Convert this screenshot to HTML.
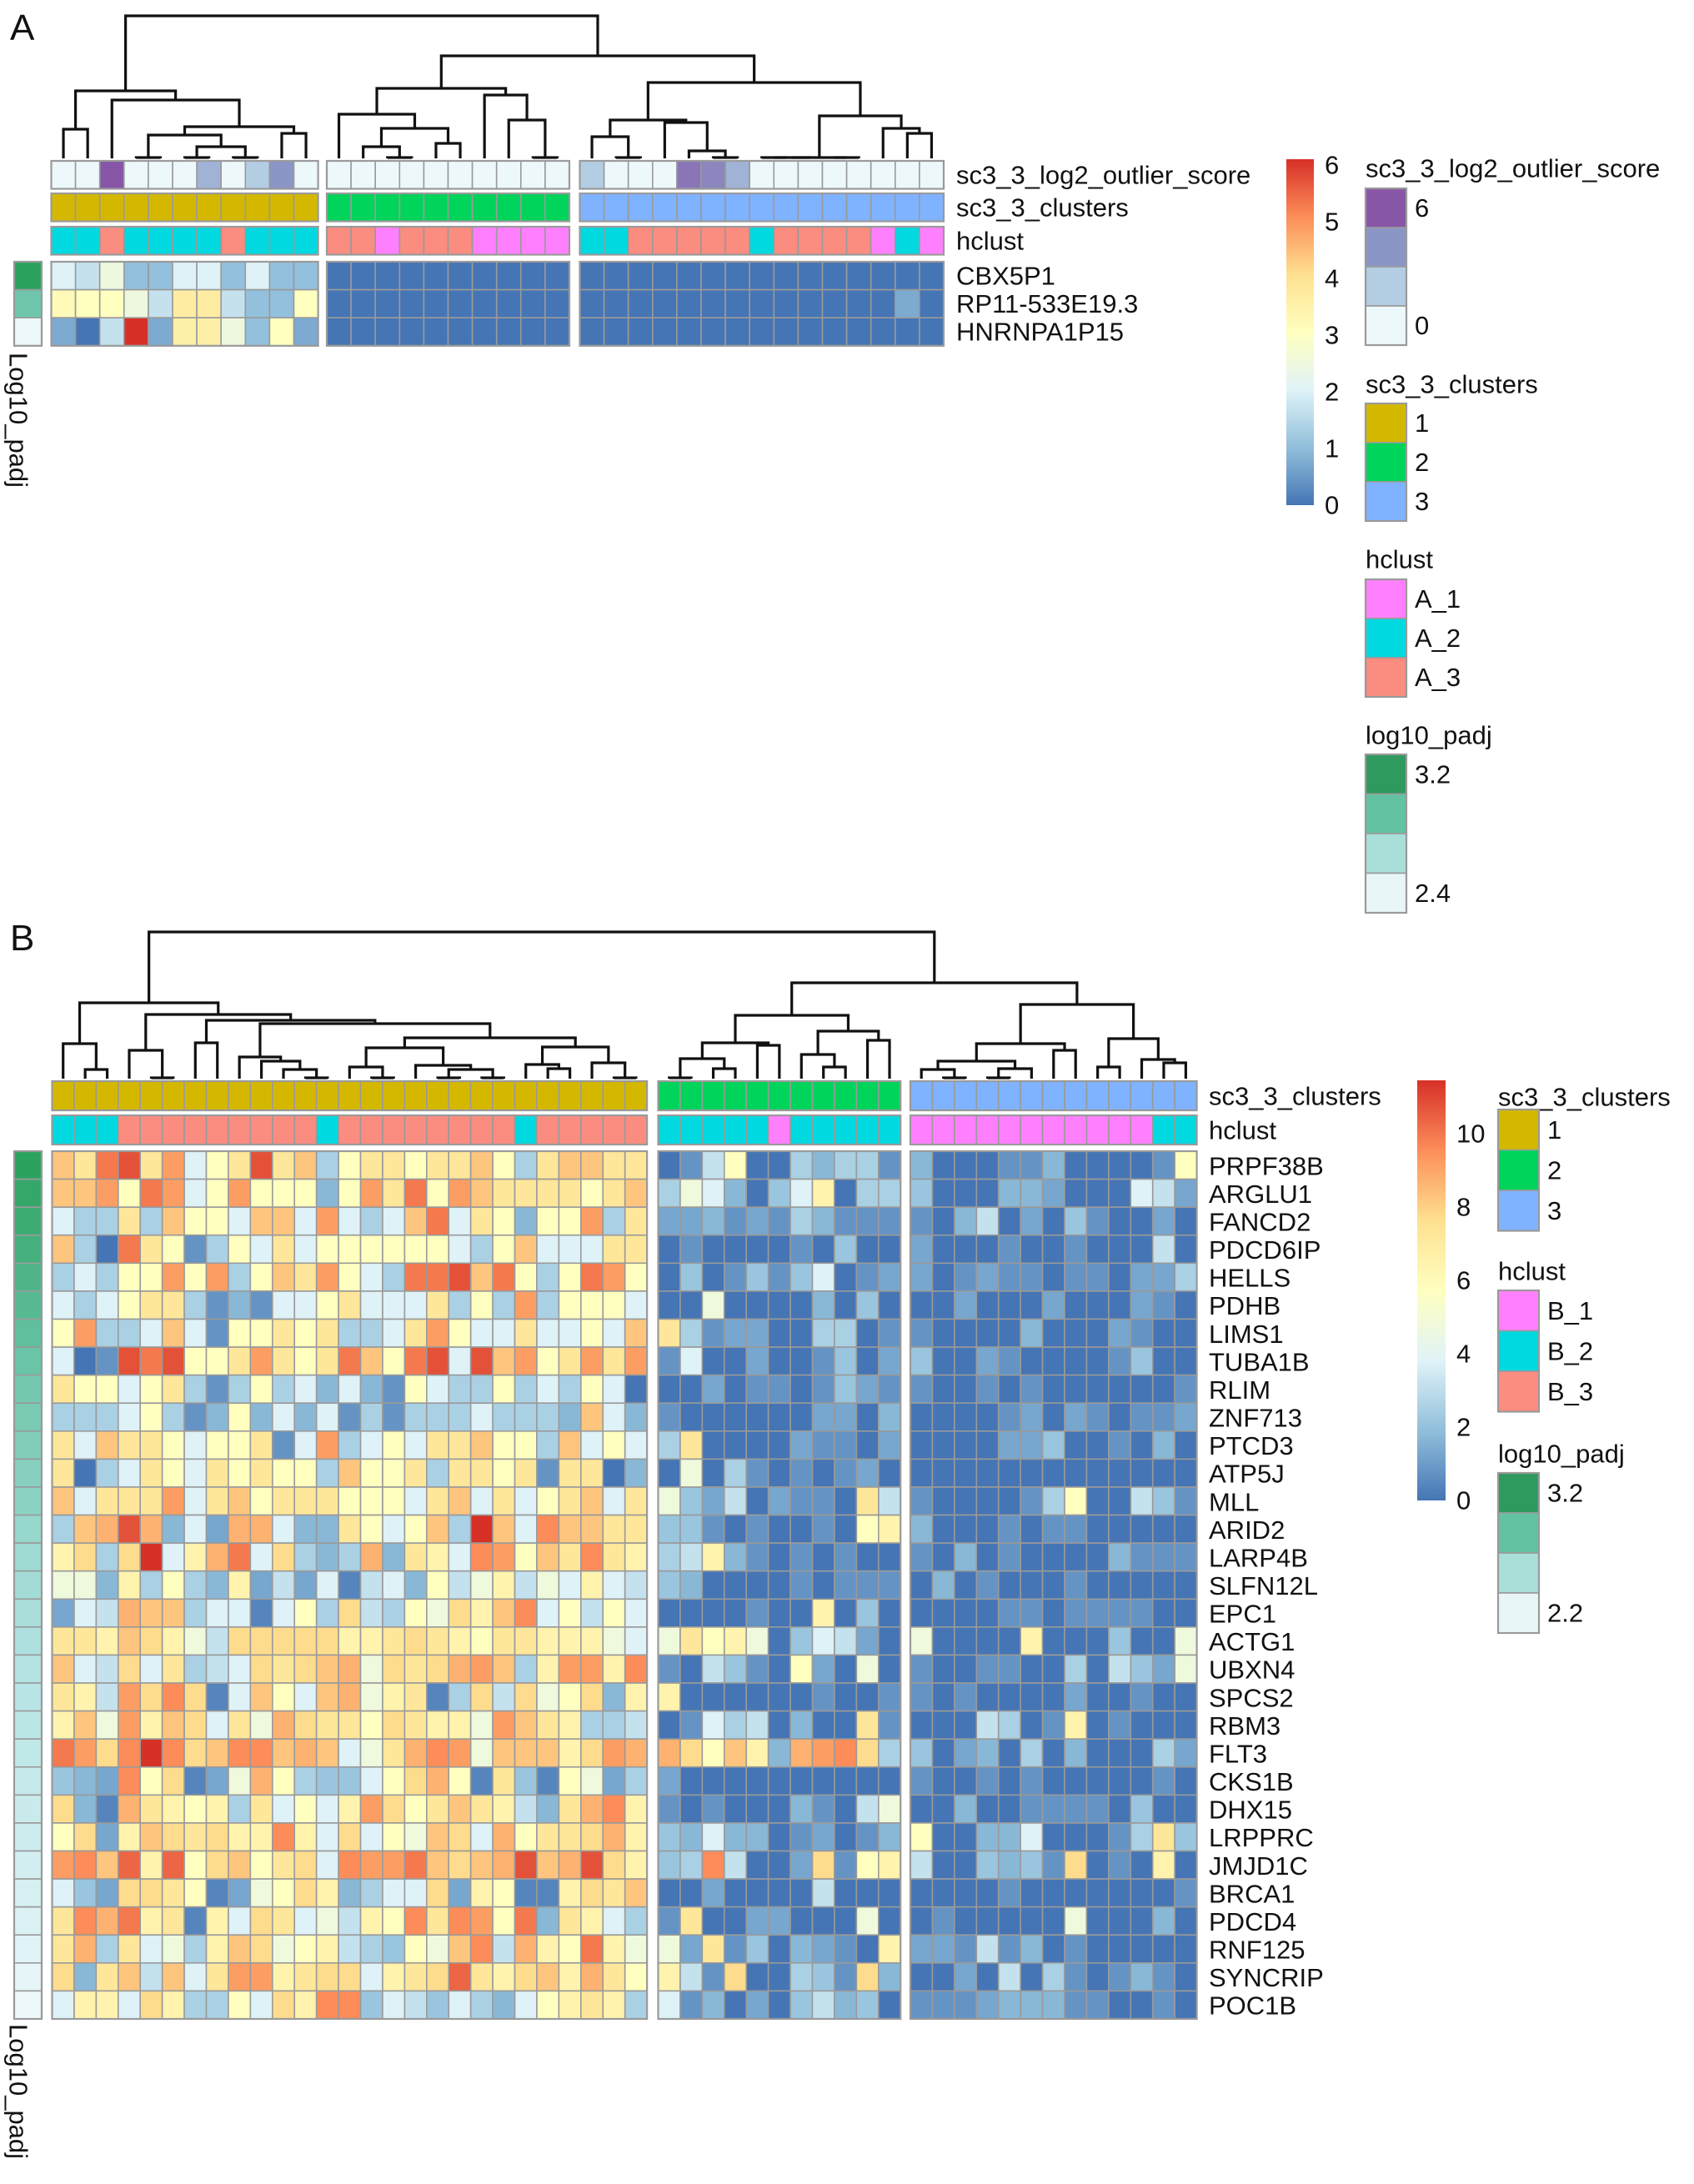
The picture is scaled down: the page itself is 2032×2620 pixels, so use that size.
<!DOCTYPE html>
<html><head><meta charset="utf-8"><title>Heatmaps</title>
<style>
html,body{margin:0;padding:0;background:#fff;}
svg{display:block;font-family:"Liberation Sans",Arial,sans-serif;}
text{fill:#111;}
</style></head>
<body>
<svg id="fig" width="2032" height="2620" viewBox="0 0 2032 2620" xmlns="http://www.w3.org/2000/svg">
<rect x="0" y="0" width="2032" height="2620" fill="#fff"/>
<text x="12" y="48" font-size="44">A</text>
<text x="12" y="1140" font-size="44">B</text>
<g id="gA"></g>
<g id="gB"></g>
<g id="legA"></g>
<g id="legB"></g>
</svg>
<script>
// ---------------- DATA ----------------
const genesA = ["CBX5P1","RP11-533E19.3","HNRNPA1P15"];
const valsA = [
 [3.5,3,4,2,2,3.5,3.5,2,3.5,2,2, 0,0,0,0,0,0,0,0,0,0, 0,0,0,0,0,0,0,0,0,0,0,0,0,0,0],
 [4.8,4.6,4.6,4,3,5.3,5.3,3,2,2,4.6, 0,0,0,0,0,0,0,0,0,0, 0,0,0,0,0,0,0,0,0,0,0,0,0,1.5,0],
 [1.5,0,3,6,1.5,5.2,5.2,4,2,4.6,1.5, 0,0,0,0,0,0,0,0,0,0, 0,0,0,0,0,0,0,0,0,0,0,0,0,0,0]
];
const outlierA = [0,0,6,0,0,0,3,0,2,4,0, 0,0,0,0,0,0,0,0,0,0, 2,0,0,0,5,4.5,3,0,0,0,0,0,0,0,0];
const clustersA = [1,1,1,1,1,1,1,1,1,1,1, 2,2,2,2,2,2,2,2,2,2, 3,3,3,3,3,3,3,3,3,3,3,3,3,3,3];
const hclustA = ["2","2","3","2","2","2","2","3","2","2","2", "3","3","1","3","3","3","1","1","1","1", "2","2","3","3","3","3","3","2","3","3","3","3","1","2","1"];
const padjA = [3.2,2.9,2.4];
const groupSizesA = [11,10,15];
const treeA = [19,[109,[155,0,1],[120,2,[152,[162,[189,3,4],[176,[189,5,6],[189,7,8]]],[160,9,10]]]],
  [67,[106,[137,11,[154,[176,12,[189,13,14]],[172,15,16]]],[114,17,[144,18,[189,19,20]]]],
      [99,[144,[164,21,[189,22,23]],[147,24,[181,25,[189,26,27]]]],[139,[189,[189,[189,28,29],30],[189,31,32]],[154,33,[160,34,35]]]]]];
const ticksA = [0,1,2,3,4,5,6];

const genesB = ["PRPF38B","ARGLU1","FANCD2","PDCD6IP","HELLS","PDHB","LIMS1","TUBA1B","RLIM","ZNF713","PTCD3","ATP5J","MLL","ARID2","LARP4B","SLFN12L","EPC1","ACTG1","UBXN4","SPCS2","RBM3","FLT3","CKS1B","DHX15","LRPPRC","JMJD1C","BRCA1","PDCD4","RNF125","SYNCRIP","POC1B"];
const valsB_g1 = [
 [7,6,9,10,6,8,4,5,6,10,6,7,3,5,6,6,5,6,6,7,5,3,6,7,7,6,6],
 [7,7,8,5,9,8,4,5,8,5,5,5,2,5,8,6,9,5,8,7,6,6,6,6,5,6,7],
 [4,3,3,6,3,7,5,5,4,7,7,4,8,4,3,4,7,9,4,6,5,2,5,5,8,3,6],
 [7,3,0,9,6,5,1,3,5,4,6,4,5,5,5,5,5,5,4,3,5,7,4,4,4,6,6],
 [3,4,3,5,5,8,5,8,3,5,7,6,8,5,4,3,9,9,10,7,9,5,3,5,9,8,5],
 [4,3,4,5,6,6,3,1,2,1,4,4,5,6,4,4,4,6,3,5,3,8,3,5,5,5,4],
 [5,8,3,3,4,7,4,1,5,5,6,5,6,3,3,4,6,8,5,4,4,6,4,4,5,4,7],
 [4,0,1,10,9,10,5,5,6,8,6,5,6,9,7,5,9,10,4,10,7,8,5,6,8,6,8],
 [6,5,5,4,5,6,3,1,3,5,3,4,2,4,2,1,5,4,3,3,5,3,4,3,5,4,0],
 [3,3,3,4,5,3,1,2,5,2,4,2,4,1,3,1,3,3,3,4,3,3,3,2,7,4,2],
 [6,4,7,6,6,5,4,5,5,6,1,4,8,3,4,5,4,6,6,7,5,5,3,7,4,5,4],
 [6,0,3,4,6,5,4,6,5,6,5,5,3,7,5,5,6,3,6,6,5,6,1,6,6,0,2],
 [7,4,6,6,6,8,4,6,7,5,6,6,6,5,5,5,4,6,7,4,6,4,5,6,7,4,6],
 [3,7,7.5,10,7.5,2,4,1.5,7.5,7.5,4,2,2,6,5,4,5,7,3,11,7,4,8.5,7,7,6,6],
 [5.5,6.5,3,6.5,11,4,5.5,7.5,9,4,6.5,3,2,3,7.5,2,6,5.5,4,8.5,8,5,7,6,8.5,6,5.5],
 [4.5,4.5,2,5.5,3,5,3,2,5.5,1.5,3.5,1.5,4,0.5,3.5,4,2,5,3.5,4.5,5.5,3.5,4.5,4,5.5,4,3.5],
 [1.5,4,3.5,7.5,7,7,3,4,4,0.5,4,5,3,6.5,3.5,3,5,4.5,6.5,5.5,7,8.5,4,5,3.5,5,4],
 [6,6,5.5,7,6.5,5.5,4.5,3.5,6.5,6.5,6.5,6.5,6.5,5.5,5.5,6,6.5,6,5.5,5,6,6,5.5,5.5,5.5,4.5,4],
 [7,4,3.5,6.5,4,6,3,3.5,4,6.5,6,6.5,7,7.5,4.5,6.5,6,6.5,7.5,8,7,3,5.5,8,8,5.5,8.5],
 [6,5.5,3.5,8,6.5,8.5,6.5,0.5,4,7,5,4,7,7.5,4.5,5.5,6,0.5,3,6.5,3.5,6.5,4.5,5,6.5,2,5.5],
 [5.5,7,4.5,8,5.5,7,6.5,4,6,4.5,7.5,6.5,6,6,5,6.5,6,5.5,5.5,4.5,8,7,6,5.5,3,3,3.5],
 [9,8,6.5,8.5,11,8.5,6.5,7,8.5,8.5,7,7.5,7,4,4.5,6,7.5,8.5,8,4.5,7,7,7,5.5,6.5,8,7.5],
 [2.5,2,1.5,8.5,5,6.5,0.5,1.5,4.5,7.5,5,3,2.5,2.5,4,5,6.5,7.5,5,0.5,6,2.5,0.5,5,4.5,1.5,3],
 [6.5,2,0.5,7.5,6,5.5,5,5.5,3,6,4,5,4,5.5,8,6.5,5,6,7,6,5.5,3.5,2,6,7.5,8.5,5.5],
 [5,6.5,1.5,5.5,7,6.5,6,6.5,5.5,5.5,8.5,5.5,4,6.5,4,5,4.5,7,6.5,4,7.5,5,6,6,6.5,7.5,5.5],
 [8,8.5,7,9.5,5.5,9.5,5,6.5,7,5,6,6.5,4,8.5,8,8,9,7,6.5,7,7.5,10,7,7.5,10,6.5,5.5],
 [4,2.5,1.5,6.5,6.5,6,5,0.5,1.5,4.5,5,6.5,5.5,2,3,4,4,6.5,1.5,5.5,5,0.5,0.5,5.5,6.5,6,7],
 [6,8.5,7.5,9,5.5,6,0.5,5.5,4,6.5,6,4,4.5,3.5,5.5,5,8.5,6,8.5,8,5,9,2,6,5.5,4,3],
 [6,7.5,3,6,4,4.5,3,5.5,7,6.5,4.5,5,5.5,3.5,3,2.5,5,4.5,7,8.5,3.5,7.5,5.5,5,9,5.5,4.5],
 [6.5,2,6,7,3.5,7,4,6,8,8,5.5,6,6.5,6.5,4,5.5,6,6.5,9.5,6,5.5,6.5,7,5.5,7.5,6,5],
 [4,5.5,5.5,4,6.5,5.5,3,3,5,4,6.5,5.5,8.5,8.5,2.5,4,3.5,2.5,4,3,2,4,5,5.5,6,5.5,3]
];
const valsB_g2 = [
 [0,1,3.5,5,0,0,3,2,3,3,1],[3,4.5,4,2,0,2.5,4,5.5,0,3,3],[1.5,1.5,2,1,1.5,1,3,2,1,1,1],
 [0,1,0,0,0,0,1,0,2.5,0,0],[0,2.5,0,1,2.5,1,2.5,4,0,1,1.5],[0,0,4.5,0,0,0,0,2,0,2.5,0],
 [6,3,1,1.5,1.5,0,0,3,3,0,1],[1,4,0,0,1.5,0,0,1,2.5,0,1.5],[0,0,1.5,0,1,1,0,1,2.5,1.5,1],
 [1,0,0,0,0,0,0,1.5,1.5,0,2],[3,6,0,0,0,0,1.5,1,1,0,1.5],[0,4.5,0,3,1,0,1,0,1,1.5,0],
 [4.5,2.5,1.5,3.5,0,1.5,1,1,0,6,3.5],[2.5,2.5,1,0,1,0,0,1,0,5,5.5],[3,3.5,5.5,2,1,0,1,0,1,0,0],
 [2.5,2,0,0,0,0,1,0,1,1,1],[0,0,0,0,1,0,0,5.5,0,2.5,0],[4.5,6,5,5.5,4.5,0,2.5,4,3.5,1.5,0],
 [1,0,3.5,2.5,1,0,5,1.5,0,4.5,0],[5.5,0,0,0,0,0,0,1,0,0,1],[0,1,4,3,3.5,0,2,0,0,6,1],
 [7.5,6.5,5,7,5.5,2,7.5,8,8.5,6.5,3],[1.5,0,0,0,0,0,0,0,0,0,0],[1,0,1,0,0,0,2,1,0,3.5,4.5],
 [2.5,2,4,2,2,0,1,1.5,0,1,2],[2.5,3,8.5,3.5,0,0,1.5,6.5,1,5,5.5],[0,0,1.5,0,0,0,0,3.5,0,0,0],
 [1,6,0,0,1.5,1.5,0,0,0,4.5,0],[4.5,1.5,6,1,2.5,0,2,1.5,1,0,5.5],[5.5,3.5,1,6.5,0,0,3,2.5,1,6.5,2],
 [4,1,2,0,1.5,0,2.5,3.5,2,2.5,0]
];
const valsB_g3 = [
 [2,0,0,0,1,1,2,0,0,0,0,1,5],[2.5,0,0,0,2,2,1.5,0,0,0,4,3.5,1.5],[1,0,2,3.5,0,1.5,0,2.5,1,0,0,1.5,0],
 [1.5,0,0,0,1,0,0,1,0,0,0,3.5,0],[1.5,0,1,1.5,1,1,0,1,1,0,1.5,1.5,3],[0,0,1.5,0,0,0,1.5,0,0,0,1.5,1,0],
 [1,0,0,0,0,2,0,0,0,1.5,1,0,0],[2.5,0,0,1.5,1,0,0,0,0,1,2.5,0,0],[1,0,0,1,0,1,0,0,0,0,0,0,1],
 [0,0,0,0,1,1.5,0,1.5,1,0,1,1,1.5],[0,0,0,0,1.5,1.5,2.5,0,0,1,0,2,0],[0,0,0,0,0,0,0,0,0,0,0,0,0],
 [1,0,0,0,0,1,3,5,0,0,3.5,2.5,1],[2,0,0,0,1,0,1,1,0,0,0,0,0],[1,0,2,0,1,0,0,0,0,2,1,1,1],
 [0,2,0,1,0,0,0,1,0,0,0,0,0],[0,0,0,0,1,1,0,1,1,1,1,0,0],[4.5,0,0,0,0,5.5,0,0,0,2.5,0,0,4.5],
 [1,0,0,1,1,0,0,3,0,3.5,2.5,1.5,4.5],[1,0,1,0,0,0,0,1.5,0,0,1,0,0],[0,0,0,3.5,3,0,1,5.5,0,1,0,0,0],
 [2.5,0,1.5,2,0,3,0,2,0,0,0,3,1.5],[1,0,0,1,0,1,0,0,0,0,0,1,0],[0,0,2,0,0,1,1,1,1,0,2.5,0,0],
 [5,0,0,2,2,4,0,0,0,1,3,6,2.5],[3.5,0,0,2.5,2,2.5,1,6.5,0,1,0,5.5,0],[0,0,0,0,1,0,0,0,0,0,0,0,1],
 [0,1,0,0,0,0,0,4.5,0,0,0,2,0],[1.5,1.5,1,3.5,1,2,0,1,0,0,0,0,0],[0,0,1.5,0,3.5,0,3,1,0,1,2,1,0],
 [1,1,1,1.5,2,2,2,1,1,0,0,1,0]
];
const clustersB = [].concat(Array(27).fill(1),Array(11).fill(2),Array(13).fill(3));
const hclustB = ["2","2","2","3","3","3","3","3","3","3","3","3","2","3","3","3","3","3","3","3","3","2","3","3","3","3","3",
 "2","2","2","2","2","1","2","2","2","2","2",
 "1","1","1","1","1","1","1","1","1","1","1","2","2"];
const padjB = [3.2,3.15,3.1,3.05,3.0,2.95,2.9,2.85,2.8,2.78,2.75,2.72,2.7,2.65,2.62,2.6,2.57,2.55,2.52,2.5,2.48,2.45,2.42,2.4,2.38,2.35,2.33,2.3,2.27,2.24,2.2];
const groupSizesB = [27,11,13];
const treeB = [1118,
 [1203,[1252,0,[1283,1,2]],[1217,[1260,3,[1293,4,5]],[1224,[1251,6,7],[1228,[1268,8,[1273,9,[1283,10,[1293,11,12]]]],
   [1245,[1257,[1280,13,[1293,14,15]],[1278,16,[1283,[1293,17,18],[1293,19,20]]]],[1256,[1277,21,[1282,22,23]],[1275,24,[1293,25,26]]]]]]]],
 [1179,[1218,[1251,[1270,[1293,27,28],[1282,29,30]],[1254,31,32]],[1237,[1265,33,[1280,34,35]],[1248,36,37]]],
   [1205,[1252,[1273,[1283,38,[1293,39,40]],[1282,[1293,41,42],43]],[1260,44,45]],[1246,[1280,46,47],[1271,48,[1275,49,50]]]]]];
const ticksB = [0,2,4,6,8,10];

// ---------------- HELPERS ----------------
const NS = "http://www.w3.org/2000/svg";
const PAL = ["#4575B4","#91BFDB","#E0F3F8","#FFFFBF","#FEE090","#FC8D59","#D73027"];
const CLUS = {1:"#D4B800",2:"#00D45A",3:"#7FB2FF"};
const HCL = {"1":"#FF80FF","2":"#00D9E0","3":"#FA8C80"};
// colour-scale axis (value -> fraction of colour ramp)
const KNOTS_B = [[0,0],[1,0.07],[2,0.15],[3,0.22],[4,0.33],[5,0.5],[6,0.63],[7,0.72],[8,0.8],[9,0.87],[10,0.94],[11,1]];
const KNOTS_A = [[0,0],[1,0.07],[2,0.17],[3.5,0.33],[4.6,0.5],[5.3,0.6],[6,1]];
function scaleFrac(v, knots){
  if(v<=knots[0][0]) return knots[0][1];
  for(let k=1;k<knots.length;k++){
    if(v<=knots[k][0]){const a=knots[k-1],b=knots[k];return a[1]+(b[1]-a[1])*(v-a[0])/(b[0]-a[0]);}
  }
  return knots[knots.length-1][1];
}
function hex2rgb(h){return [parseInt(h.substr(1,2),16),parseInt(h.substr(3,2),16),parseInt(h.substr(5,2),16)];}
function interp(stops, t){
  t=Math.max(0,Math.min(1,t)); const n=stops.length-1; const p=t*n; const i=Math.min(n-1,Math.floor(p)); const f=p-i;
  const a=hex2rgb(stops[i]), b=hex2rgb(stops[i+1]);
  return "rgb("+a.map((v,k)=>Math.round(v+(b[k]-v)*f)).join(",")+")";
}
function mk(tag, attrs, parent){const e=document.createElementNS(NS,tag);for(const k in attrs)e.setAttribute(k,attrs[k]);parent.appendChild(e);return e;}
function colX(sizes, x0s, w, j){let g=0,s=j;while(s>=sizes[g]){s-=sizes[g];g++;}return {x:x0s[g]+s*w,g:g};}

function drawDend(tree, parent, leafXf, baseY){
  function rec(n){
    if(typeof n==="number") return {x:leafXf(n), y:baseY};
    const a=rec(n[1]), b=rec(n[2]);
    const p=mk("path",{d:"M"+a.x+","+a.y+"V"+n[0]+"H"+b.x+"V"+b.y,fill:"none",stroke:"#111","stroke-width":3.2},parent);
    
    
    return {x:(a.x+b.x)/2,y:n[0]};
  }
  rec(tree);
}
function cell(parent,x,y,w,h,fill,name){
  const r=mk("rect",{x:x,y:y,width:w,height:h,fill:fill,stroke:"#9a9a9a","stroke-width":1.6},parent);
  
  
  return r;
}
function frame(parent,x,y,w,h){mk("rect",{x:x,y:y,width:w,height:h,fill:"none",stroke:"#9a9a9a","stroke-width":2.2},parent);}
function label(parent,x,y,s,size,name){
  const t=mk("text",{x:x,y:y,"font-size":size,"dominant-baseline":"central"},parent);t.textContent=s;
  
  
  return t;
}

// ---------------- PANEL A ----------------
(function(){
  const g=document.getElementById("gA");
  const w=29.1, x0s=[61.5,392,695.5];
  const cx=j=>colX(groupSizesA,x0s,w,j).x;
  drawDend(treeA,g,j=>cx(j)+w/2,190);
  const N=clustersA.length;
  for(let j=0;j<N;j++){
    const x=cx(j);
    cell(g,x,193,w,33.5,interp(["#EDF8FB","#B3CDE3","#8C96C6","#8856A7"],outlierA[j]/6),"outlier-score-cell");
    cell(g,x,232,w,33.5,CLUS[clustersA[j]],"cluster-cell");
    cell(g,x,272,w,33.5,HCL[hclustA[j]],"hclust-cell");
    for(let i=0;i<genesA.length;i++){
      cell(g,x,314+i*33.6,w,33.6,interp(PAL,scaleFrac(valsA[i][j],KNOTS_A)),"expression-cell");
    }
  }
  groupSizesA.forEach((s,k)=>{const x=x0s[k];[[193,33.5],[232,33.5],[272,33.5],[314,100.8]].forEach(r=>frame(g,x,r[0],s*w,r[1]));});
  for(let i=0;i<genesA.length;i++){
    cell(g,17,314+i*33.6,33,33.6,interp(["#EDF8FB","#B2E2E2","#66C2A4","#2CA25F"],(padjA[i]-2.4)/0.8),"padj-cell");
    label(g,1147,314+i*33.6+17,genesA[i],31,"gene-label");
  }
  frame(g,17,314,33,100.8);
  label(g,1147,210,"sc3_3_log2_outlier_score",31,"outlier-row-label");
  label(g,1147,249,"sc3_3_clusters",31,"clusters-row-label");
  label(g,1147,289,"hclust",31,"hclust-row-label");
  const t=mk("text",{x:0,y:0,"font-size":31,transform:"translate(22,423) rotate(90)","dominant-baseline":"central"},g);
  t.textContent="Log10_padj";
  
  
})();

// ---------------- PANEL B ----------------
(function(){
  const g=document.getElementById("gB");
  const w=26.43, x0s=[62.5,789.5,1092];
  const cx=j=>colX(groupSizesB,x0s,w,j).x;
  drawDend(treeB,g,j=>cx(j)+w/2,1294);
  const N=clustersB.length, rh=33.58, y0=1381;
  const valsB=genesB.map((_,i)=>valsB_g1[i].concat(valsB_g2[i],valsB_g3[i]));
  for(let j=0;j<N;j++){
    const x=cx(j);
    cell(g,x,1297,w,35,CLUS[clustersB[j]],"cluster-cell");
    cell(g,x,1338,w,35,HCL[hclustB[j]],"hclust-cell");
    for(let i=0;i<genesB.length;i++){
      const v=valsB[i][j]===undefined?5:valsB[i][j];
      cell(g,x,y0+i*rh,w,rh,interp(PAL,scaleFrac(v,KNOTS_B)),"expression-cell");
    }
  }
  groupSizesB.forEach((s,k)=>{const x=x0s[k];[[1297,35],[1338,35],[y0,rh*genesB.length]].forEach(r=>frame(g,x,r[0],s*w,r[1]));});
  for(let i=0;i<genesB.length;i++){
    cell(g,17,y0+i*rh,33,rh,interp(["#EDF8FB","#B2E2E2","#66C2A4","#2CA25F"],(padjB[i]-2.2)/1.0),"padj-cell");
    label(g,1450,y0+i*rh+rh/2+1,genesB[i],31,"gene-label");
  }
  frame(g,17,y0,33,rh*genesB.length);
  label(g,1450,1315,"sc3_3_clusters",31,"clusters-row-label");
  label(g,1450,1356,"hclust",31,"hclust-row-label");
  const t=mk("text",{x:0,y:0,"font-size":31,transform:"translate(22,2428) rotate(90)","dominant-baseline":"central"},g);
  t.textContent="Log10_padj";
  
  
})();

// ---------------- LEGENDS ----------------
function colorbar(parent,x,yTop,yBot,w,vmax,ticks,id){
  const defs=mk("defs",{},parent);
  const lg=mk("linearGradient",{id:id,x1:0,y1:1,x2:0,y2:0},defs);
  for(let k=0;k<=24;k++){mk("stop",{offset:k/24,"stop-color":interp(PAL,k/24)},lg);}
  const r=mk("rect",{x:x,y:yTop,width:w,height:yBot-yTop,fill:"url(#"+id+")"},parent);
  
  
  ticks.forEach(v=>{
    const y=yBot-(yBot-yTop)*v/vmax;
    label(parent,x+w+13,y,String(v),31,"color-scale-tick");
  });
}
function boxLegend(parent,x,titleY,boxTop,bh,colors,labels,name){
  label(parent,x,titleY,name,31,"legend-title");
  colors.forEach((c,k)=>{cell(parent,x,boxTop+k*bh,49,bh,c,"legend-swatch");});
  frame(parent,x,boxTop,49,bh*colors.length);
  labels.forEach(l=>{if(l[1]!=="")label(parent,x+59,boxTop+l[0]*bh+bh/2,l[1],31,"legend-entry");});
}
(function(){
  const g=document.getElementById("legA");
  colorbar(g,1543,191,606,33,6.1,ticksA,"gradA");
  boxLegend(g,1638,202,226,47,["#8856A7","#8C96C6","#B3CDE3","#EDF8FB"],[[0,"6"],[3,"0"]],"sc3_3_log2_outlier_score");
  boxLegend(g,1638,461,484,47,[CLUS[1],CLUS[2],CLUS[3]],[[0,"1"],[1,"2"],[2,"3"]],"sc3_3_clusters");
  boxLegend(g,1638,671,695,47,[HCL["1"],HCL["2"],HCL["3"]],[[0,"A_1"],[1,"A_2"],[2,"A_3"]],"hclust");
  boxLegend(g,1638,882,905,47.5,["#2E9A5E","#63C2A2","#A9DFD8","#E9F6F8"],[[0,"3.2"],[3,"2.4"]],"log10_padj");
})();
(function(){
  const g=document.getElementById("legB");
  colorbar(g,1700,1296,1800,34,11.45,ticksB,"gradB");
  boxLegend(g,1797,1316,1331,48.5,[CLUS[1],CLUS[2],CLUS[3]],[[0,"1"],[1,"2"],[2,"3"]],"sc3_3_clusters");
  boxLegend(g,1797,1525,1548,48.5,[HCL["1"],HCL["2"],HCL["3"]],[[0,"B_1"],[1,"B_2"],[2,"B_3"]],"hclust");
  boxLegend(g,1797,1744,1767,48,["#2E9A5E","#63C2A2","#A9DFD8","#E9F6F8"],[[0,"3.2"],[3,"2.2"]],"log10_padj");
})();
</script>
</body></html>
